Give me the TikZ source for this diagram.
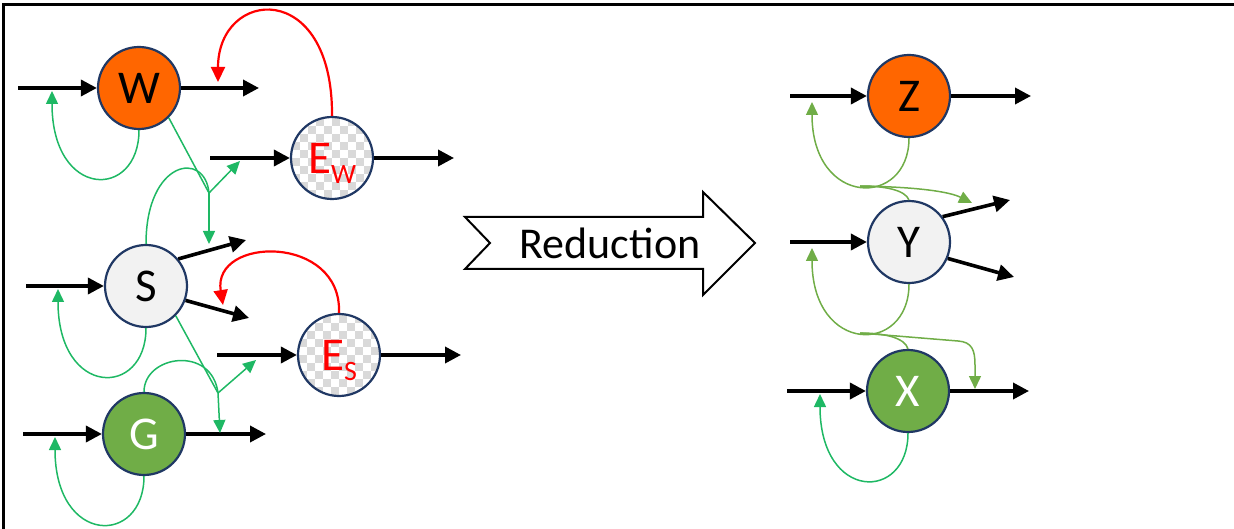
\documentclass[tikz,border=0pt]{standalone}
\usepackage{fontspec}
\setmainfont{Carlito}
\usetikzlibrary{arrows.meta,calc}
\definecolor{navy}{HTML}{203864}
\definecolor{orng}{HTML}{FF6600}
\definecolor{lgray}{HTML}{F2F2F2}
\definecolor{olive}{HTML}{70AD47}
\definecolor{lgrn}{HTML}{1EB864}
\definecolor{ck}{HTML}{D9D9D9}
\begin{document}
\begin{tikzpicture}[x=1pt,y=-1pt,
  st/.style={circle,draw=navy,line width=2.2pt,minimum size=82pt,inner sep=0pt,
    font=\fontsize{47}{47}\selectfont},
  checker/.style={text depth=0pt,text=red,path picture={
    \foreach \i in {-6,...,5}{\foreach \j in {-6,...,5}{
      \pgfmathtruncatemacro\k{mod(\i+\j+20,2)}
      \ifnum\k=0
        \fill[ck] ([shift={(\i*8pt,\j*8pt)}]path picture bounding box.center) rectangle ++(8pt,8pt);
      \fi}}}},
  flow/.style={line width=3.6pt,-{Triangle[length=16pt,width=16pt]}},
  fb/.style={draw=red,line width=2.2pt,-{Triangle[length=15pt,width=14pt]}},
  gl/.style={draw=lgrn,line width=1.5pt},
  ol/.style={draw=olive,line width=1.5pt},
  ctl/.style={gl,-{Triangle[length=13pt,width=12pt]}},
  ctlo/.style={ol,-{Triangle[length=13pt,width=12pt]}}
]
\useasboundingbox (0,0) rectangle (1234,529);
% frame
\draw[line width=3pt] (3.5,535) -- (3.5,4.5) -- (1240,4.5);

% nodes
\node[st,fill=orng] (W) at (139,88) {W};
\node[st,checker] (EW) at (332,158) {E\raisebox{-10pt}{\fontsize{28}{28}\selectfont W}};
\node[st,fill=lgray] (S) at (146,286) {S};
\node[st,checker] (ES) at (339,355) {E\raisebox{-10pt}{\fontsize{28}{28}\selectfont S}};
\node[st,fill=olive,text=white] (G) at (144,434) {G};
\node[st,fill=orng] (Z) at (909,96) {Z};
\node[st,fill=lgray] (Y) at (909,242) {Y};
\node[st,fill=olive,text=white] (X) at (908,391) {X};

% free ends
\coordinate (Wi) at (18,88);   \coordinate (Wo) at (259,88);
\coordinate (EWi) at (210,158); \coordinate (EWo) at (454,158);
\coordinate (Si) at (26,286);  \coordinate (So1) at (246,240); \coordinate (So2) at (249,318);
\coordinate (ESi) at (217,355); \coordinate (ESo) at (461,355);
\coordinate (Gi) at (23,434);  \coordinate (Go) at (266,434);
\coordinate (Zi) at (790,96);  \coordinate (Zo) at (1031,96);
\coordinate (Yi) at (790,242); \coordinate (Yo1) at (1010,200); \coordinate (Yo2) at (1014,277);
\coordinate (Xi) at (787,391); \coordinate (Xo) at (1029,391);

% black flows
\draw[flow] (Wi) -- (W);   \draw[flow] (W) -- (Wo);
\draw[flow] (EWi) -- (EW); \draw[flow] (EW) -- (EWo);
\draw[flow] (Si) -- (S);   \draw[flow] (S.40) -- (So1); \draw[flow] (S.-20) -- (So2);
\draw[flow] (ESi) -- (ES); \draw[flow] (ES) -- (ESo);
\draw[flow] (Gi) -- (G);   \draw[flow] (G) -- (Go);
\draw[flow] (Zi) -- (Z);   \draw[flow] (Z) -- (Zo);
\draw[flow] (Yi) -- (Y);   \draw[flow] (Y.37) -- (Yo1); \draw[flow] (Y.-23) -- (Yo2);
\draw[flow] (Xi) -- (X);   \draw[flow] (X) -- (Xo);

% self loops
\coordinate (Wl) at (52,91);
\coordinate (Sl) at (58,289);
\coordinate (Gl) at (55,437);
\coordinate (Xl) at (820,394);
\draw[ctl] (W.south) .. controls (139,200) and (52,200) .. (Wl);
\draw[ctl] (S.south) .. controls (146,398) and (58,398) .. (Sl);
\draw[ctl] (G.south) .. controls (144,546) and (55,546) .. (Gl);
\draw[ctl] (X.south) .. controls (908,502) and (820,502) .. (Xl);

% cross couplings (left, upper)
\coordinate (J1) at (209,193);
\coordinate (T1) at (240,161);
\coordinate (T2) at (209,244);
\draw[gl] (W.-45) -- (J1);
\draw[gl] (S.north) .. controls (146,160) and (205,150) .. (J1);
\draw[ctl] (J1) -- (T1);
\draw[ctl] (J1) -- (T2);
% cross couplings (left, lower)
\coordinate (J2) at (218,393);
\coordinate (T3) at (256,360);
\coordinate (T4) at (220,433);
\draw[gl] (S.-45) -- (J2);
\draw[gl] (G.north) .. controls (144,355) and (212,345) .. (J2);
\draw[ctl] (J2) -- (T3);
\draw[ctl] (J2) -- (T4);

% right couplings (upper)
\coordinate (Zl) at (812,102);
\coordinate (JZ) at (860,186);
\coordinate (YoT) at (972,203);
\draw[ctlo] (Z.south) .. controls (909,208) and (812,208) .. (Zl);
\draw[ol] (Y.north) .. controls (905,190) and (885,186) .. (JZ);
\draw[ctlo] (JZ) .. controls (920,187) and (950,192) .. (YoT);
% right couplings (lower)
\coordinate (Yl) at (812,248);
\coordinate (JY) at (860,333);
\coordinate (XoT) at (975,389);
\draw[ctlo] (Y.south) .. controls (909,355) and (812,355) .. (Yl);
\draw[ol] (X.north) .. controls (905,338) and (885,333) .. (JY);
\draw[ctlo] (JY) -- (958,341) .. controls (972,342) and (975,350) .. (975,365) -- (XoT);

% red feedbacks
\coordinate (WfT) at (218,82);
\coordinate (SfT) at (223,305);
\draw[fb] (EW.north) .. controls (333,-22) and (218,-12) .. (WfT);
\draw[fb] (ES.north) .. controls (342,234) and (212,236) .. (SfT);

% reduction arrow
\draw[line width=2pt,fill=white] (465,217) -- (490,243) -- (465,269) -- (703,269) -- (703,295)
  -- (755,243) -- (703,192) -- (703,217) -- cycle;
\node[font=\fontsize{44}{44}\selectfont] (red) at (610,243) {Reduction};
\end{tikzpicture}
\end{document}
